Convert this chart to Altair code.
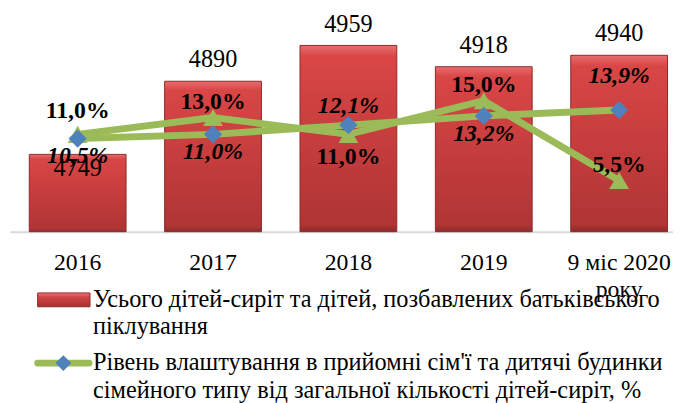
import altair as alt
import pandas as pd

categories = ["2016", "2017", "2018", "2019", "9 міс 2020 року"]
total_children = [4749, 4890, 4959, 4918, 4940]
placement_level = [10.5, 11.0, 12.1, 13.2, 13.9]
second_series = [11.0, 13.0, 11.0, 15.0, 5.5]
legend_bar_lines = ["Усього дітей-сиріт та дітей, позбавлених батьківського", "піклування"]
legend_line_lines = ["Рівень влаштування в прийомні сім'ї та дитячі будинки",
                     "сімейного типу від загальної кількості дітей-сиріт, %"]

df = pd.DataFrame({"cat": categories, "total": total_children,
                   "lvl": placement_level, "tri": second_series})

FONT = "Liberation Serif"
GREEN = "#9bbb59"
BLUE = "#4f81bd"

xscale = alt.Scale(domain=categories, range=[0, 685], paddingInner=0.285, paddingOuter=0.1425)
xaxis = alt.Axis(title=None, labelFont=FONT, labelFontSize=24, labelColor="#000000",
                 labelAngle=0, labelBaseline="alphabetic", labelPadding=38, labelLineHeight=28,
                 ticks=False, domainColor="#d9d9d9", domainWidth=2, grid=False,
                 labelExpr="datum.label == '9 міс 2020 року' ? ['9 міс 2020', 'року'] : datum.label")
X = alt.X("cat:N", sort=categories, scale=xscale, axis=xaxis)

yb = alt.Scale(domain=[4600, 5000], clamp=True)
yl = alt.Scale(domain=[0, 24], range=[205, 1])

base = alt.Chart(df)

bars = base.mark_bar(
    stroke="#8c2a2a", strokeWidth=1,
    fill=alt.Gradient(gradient="linear", x1=0, y1=0, x2=0, y2=1,
                      stops=[alt.GradientStop(color="#e86e6e", offset=0),
                             alt.GradientStop(color="#d94646", offset=0.06),
                             alt.GradientStop(color="#c63d3d", offset=0.5),
                             alt.GradientStop(color="#b03535", offset=0.96),
                             alt.GradientStop(color="#8f2a2a", offset=1)])
).encode(x=X, y=alt.Y("total:Q", scale=yb, axis=None), y2=alt.datum(4600))

bar_text = base.mark_text(
    font=FONT, fontSize=24.5, baseline="alphabetic", color="#000000",
    dy={"expr": "datum.cat == '2016' ? 22 : -14"}
).encode(x=X, y=alt.Y("total:Q", scale=yb, axis=None), text=alt.Text("total:Q"))

bar_layer = alt.layer(bars, bar_text)

tri_line = base.mark_line(color=GREEN, strokeWidth=7).encode(
    x=X, y=alt.Y("tri:Q", scale=yl, axis=None))
tri_pts = base.mark_point(shape="triangle-up", filled=True, size=400, color=GREEN, opacity=1).encode(
    x=X, y=alt.Y("tri:Q", scale=yl, axis=None))
lvl_line = base.mark_line(color=GREEN, strokeWidth=7).encode(
    x=X, y=alt.Y("lvl:Q", scale=yl, axis=None))
lvl_pts = base.mark_point(shape="diamond", filled=True, size=340, color=BLUE, opacity=1).encode(
    x=X, y=alt.Y("lvl:Q", scale=yl, axis=None))

lvl_text = base.mark_text(
    font=FONT, fontSize=24, fontWeight="bold", fontStyle="italic",
    baseline="middle", color="#000000",
    dy={"expr": "datum.cat == '2018' ? -19 : (datum.cat == '9 міс 2020 року' ? -34 : 18)"}
).encode(
    x=X, y=alt.Y("lvl:Q", scale=yl, axis=None), text="lab:N"
).transform_calculate(lab="replace(format(datum.lvl, '.1f'), '.', ',') + '%'")

tri_text = base.mark_text(
    font=FONT, fontSize=24, fontWeight="bold", baseline="middle", color="#000000",
    dy={"expr": "datum.cat == '2018' ? 23 : (datum.cat == '2016' ? -24 : -16)"}
).encode(
    x=X, y=alt.Y("tri:Q", scale=yl, axis=None), text="lab:N"
).transform_calculate(lab="replace(format(datum.tri, '.1f'), '.', ',') + '%'")

line_layer = alt.layer(tri_line, lvl_line, tri_pts, lvl_pts, tri_text, lvl_text)

# legend
leg_bar = alt.Chart(df.head(1)).mark_rect(
    stroke="#8c2a2a", strokeWidth=1,
    fill=alt.Gradient(gradient="linear", x1=0, y1=0, x2=0, y2=1,
                      stops=[alt.GradientStop(color="#f07a7a", offset=0),
                             alt.GradientStop(color="#d04444", offset=0.3),
                             alt.GradientStop(color="#a83030", offset=1)])
).encode(x=alt.value(28), x2=alt.value(81), y=alt.value(272), y2=alt.value(286))
leg_bar_text = alt.Chart(df.head(1)).mark_text(
    text=legend_bar_lines, font=FONT, fontSize=24.6, align="left", baseline="alphabetic",
    lineHeight=28, color="#000000").encode(x=alt.value(84), y=alt.value(286))
leg_line = alt.Chart(df.head(1)).mark_rule(color=GREEN, strokeWidth=7, strokeCap="round").encode(
    x=alt.value(28), x2=alt.value(80), y=alt.value(343))
leg_dia = alt.Chart(df.head(1)).mark_point(shape="diamond", filled=True, size=260, color=BLUE,
                                           opacity=1).encode(x=alt.value(54), y=alt.value(343))
leg_line_text = alt.Chart(df.head(1)).mark_text(
    text=legend_line_lines, font=FONT, fontSize=24.6, align="left", baseline="alphabetic",
    lineHeight=28, color="#000000").encode(x=alt.value(84), y=alt.value(350))

legend_layer = alt.layer(leg_bar, leg_bar_text, leg_line, leg_dia, leg_line_text)

chart = alt.layer(bar_layer, line_layer, legend_layer).resolve_scale(y="independent").properties(
    width=671, height=210,
    padding={"left": 2, "top": 14, "right": 0, "bottom": 171},
    autosize=alt.AutoSizeParams(type="none"),
    background="#ffffff"
).configure_view(stroke=None)

chart.save("out.html", embed_options={"renderer": "svg", "actions": False})
